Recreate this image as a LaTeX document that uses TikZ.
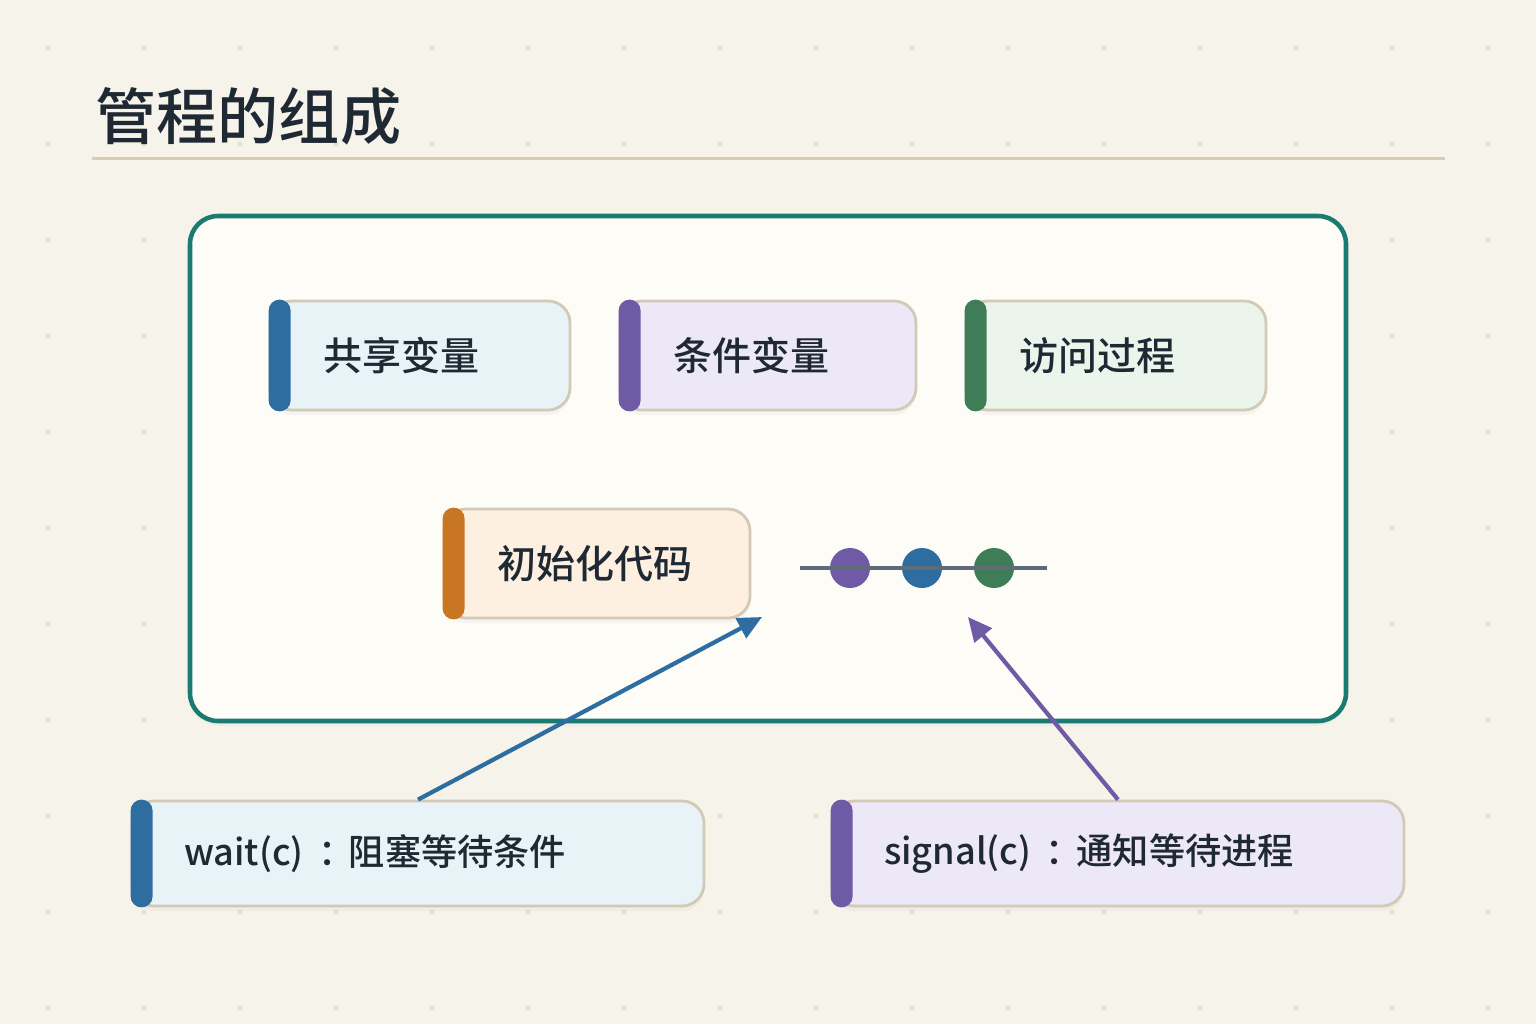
\documentclass[tikz,border=0pt]{standalone}
\usepackage{fontspec}
\setmainfont{Noto Sans CJK SC}[UprightFont=* Medium]
\usepackage{xcolor}
\usetikzlibrary{arrows.meta, shadows}

\definecolor{paper}{HTML}{F6F3EA}
\definecolor{dotgrey}{HTML}{E6E0D2}
\definecolor{ink}{HTML}{1F2933}
\definecolor{rule}{HTML}{D8CCB4}
\definecolor{frame}{HTML}{1B7B73}
\definecolor{panel}{HTML}{FDFCF7}
\definecolor{cardline}{HTML}{D3C9B7}
\definecolor{mblue}{HTML}{2E6DA0}
\definecolor{mbluefill}{HTML}{E8F3F8}
\definecolor{mpurple}{HTML}{6F5AA6}
\definecolor{mpurplefill}{HTML}{EDE8F7}
\definecolor{mgreen}{HTML}{3E7D56}
\definecolor{mgreenfill}{HTML}{ECF5EC}
\definecolor{morange}{HTML}{C87621}
\definecolor{morangefill}{HTML}{FEF0E0}
\definecolor{queue}{HTML}{5F6B76}

\begin{document}
\begin{tikzpicture}
            \tikzstyle{Card} = [draw=cardline, line width=0.8pt, rounded corners=0.22cm, minimum height=1.09cm,
                inner xsep=0.53cm, align=left, text=ink, font=\fontsize{11.1}{13}\selectfont,
                drop shadow={opacity=0.06, shadow xshift=0cm, shadow yshift=-0.05cm}]
            \tikzstyle{Wide Card} = [Card, minimum height=1.05cm, inner xsep=0.52cm, text width=4.68cm,
                font=\fontsize{10.3}{12}\selectfont]
            \tikzstyle{Bar} = [rounded corners=0.11cm]
            \tikzstyle{Ball} = [circle, inner sep=0cm, minimum size=0.4cm]
            \tikzstyle{Pointer} = [line width=1.2pt, -{Triangle[length=0.24cm, width=0.22cm]}]

            \useasboundingbox (0,0) rectangle (15.36,-10.24);
            \fill[paper] (0,0) rectangle (15.36,-10.24);
            \foreach \x in {0,...,15}
                \foreach \y in {0,...,10}
                    \fill[dotgrey] (0.48+0.96*\x, -0.48-0.96*\y) circle (0.025);

            \node[anchor=base west, text=ink, font=\fontsize{17.4}{20}\selectfont] (title) at (0.83,-1.39) {管程的组成};
            \draw[rule, line width=0.85pt] (0.92,-1.58) -- (14.45,-1.58);

            \node[draw=frame, fill=panel, line width=1.3pt, rounded corners=0.28cm, minimum width=11.56cm,
                minimum height=5.05cm, drop shadow={opacity=0.05, shadow xshift=0cm, shadow yshift=-0.05cm}]
                (monitor) at (7.68,-4.685) {};

            \node[Card, fill=mbluefill, text width=1.94cm] (shared) at (4.20,-3.555) {共享变量};
            \node[Card, fill=mpurplefill, text width=1.90cm] (condvar) at (7.68,-3.555) {条件变量};
            \node[Card, fill=mgreenfill, text width=1.94cm] (procs) at (11.16,-3.555) {访问过程};
            \node[Card, fill=morangefill, text width=2.00cm] (init) at (5.97,-5.635) {初始化代码};
            \node[Wide Card, fill=mbluefill] (wait) at (4.18,-8.535) {wait(c)\kern0.4em：\kern-0.15em阻塞等待条件};
            \node[Wide Card, fill=mpurplefill] (signal) at (11.18,-8.535) {signal(c)\kern0.4em：\kern-0.15em通知等待进程};

            \fill[Bar, mblue] (shared.north west) rectangle ([xshift=0.22cm]shared.south west);
            \fill[Bar, mpurple] (condvar.north west) rectangle ([xshift=0.22cm]condvar.south west);
            \fill[Bar, mgreen] (procs.north west) rectangle ([xshift=0.22cm]procs.south west);
            \fill[Bar, morange] (init.north west) rectangle ([xshift=0.22cm]init.south west);
            \fill[Bar, mblue] (wait.north west) rectangle ([xshift=0.22cm]wait.south west);
            \fill[Bar, mpurple] (signal.north west) rectangle ([xshift=0.22cm]signal.south west);

            \node[Ball, fill=mpurple] (q1) at (8.50,-5.68) {};
            \node[Ball, fill=mblue] (q2) at (9.22,-5.68) {};
            \node[Ball, fill=mgreen] (q3) at (9.94,-5.68) {};
            \coordinate (qstart) at (8.00,-5.68);
            \coordinate (qend) at (10.47,-5.68);
            \draw[queue, line width=1.2pt] (qstart) -- (qend);

            \coordinate (waittip) at (7.62,-6.17);
            \coordinate (signaltip) at (9.68,-6.17);
            \draw[Pointer, mblue] (wait.north) -- (waittip);
            \draw[Pointer, mpurple] (signal.north) -- (signaltip);
        \end{tikzpicture}
\end{document}
